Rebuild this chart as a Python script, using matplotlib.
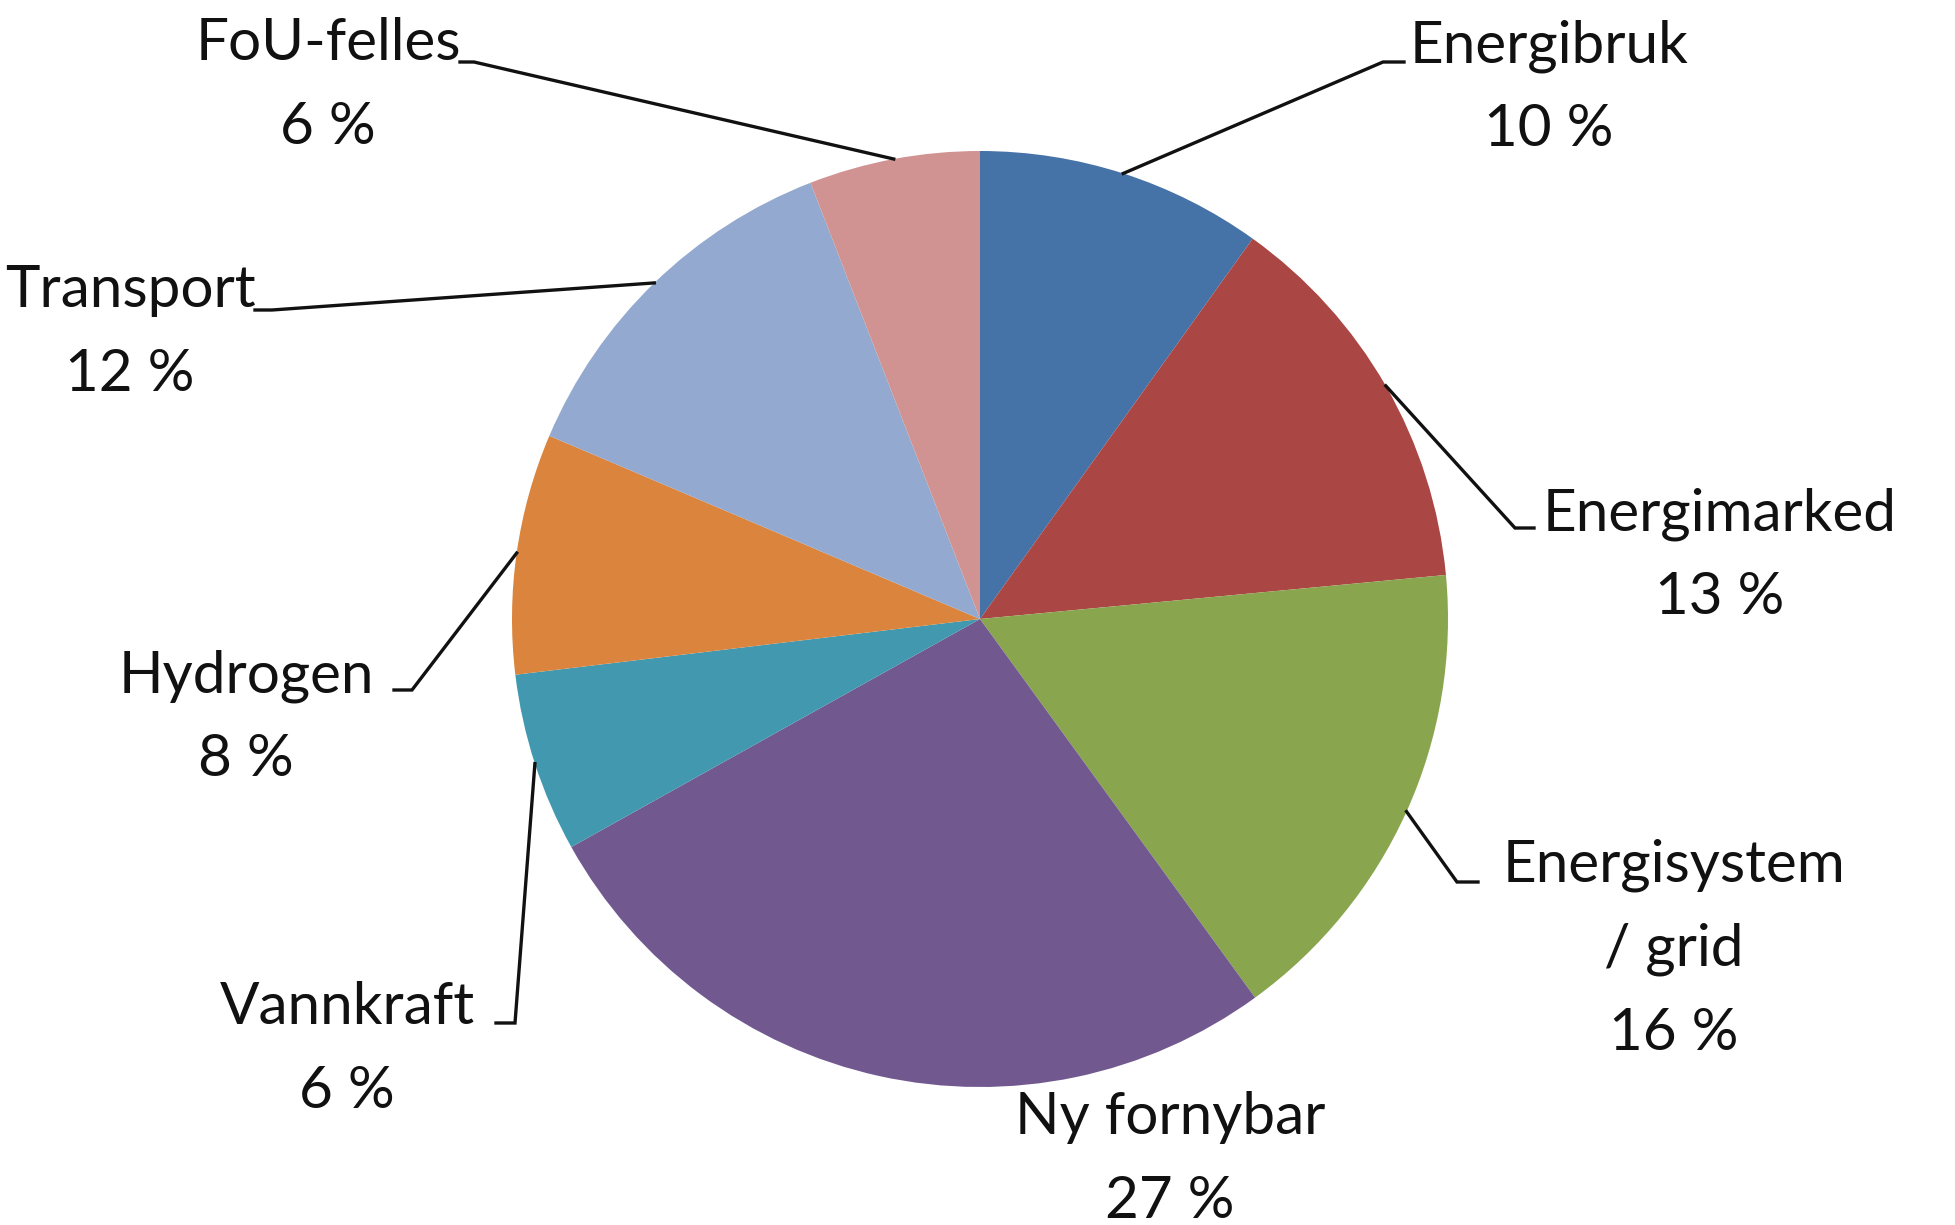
import numpy as np
import matplotlib.pyplot as plt

# data
categories = ["Energibruk", "Energimarked", "Energisystem\n/ grid", "Ny fornybar",
              "Vannkraft", "Hydrogen", "Transport", "FoU-felles"]
shares = [9.9, 13.6, 16.5, 26.9, 6.2, 8.3, 12.7, 5.9]
pct_labels = ["10 %", "13 %", "16 %", "27 %", "6 %", "8 %", "12 %", "6 %"]
colors = ["#4572A7", "#AA4643", "#89A54E", "#71588F",
          "#4198AF", "#DB843D", "#93A9CF", "#D19392"]

W, H = 1956, 1225
cx, cy, r = 980, H - 619, 468

# label layout (image pixel coords: x centre, baseline y of first line)
label_pos = [(1549, 62), (1720, 530), (1674, 882), (1170, 1134),
             (347, 1024), (246, 692), (130, 307), (328, 60)]
# leader line: elbow and end point (None = no leader)
leaders = [((1383, 62), (1404, 62)), ((1515, 528), (1534, 528)),
           ((1457, 882), (1478, 882)), None,
           ((515, 1023), (496, 1023)), ((412, 690), (394, 690)),
           ((272, 310), (255, 310)), ((474, 62), (460, 62))]

plt.rcParams['font.family'] = ['Lato', 'DejaVu Sans']

fig = plt.figure(figsize=(W / 100, H / 100), dpi=100)
ax = fig.add_axes([0, 0, 1, 1])

ax.pie(shares, colors=colors, startangle=90, counterclock=False,
       center=(cx, cy), radius=r, wedgeprops=dict(linewidth=0))

ax.set_xlim(0, W)
ax.set_ylim(0, H)
ax.axis('off')

line_gap = 84
cum = np.cumsum([0] + shares)
for i, name in enumerate(categories):
    mid = (cum[i] + cum[i + 1]) / 2 / 100 * 2 * np.pi
    ex, ey = cx + r * np.sin(mid), cy + r * np.cos(mid)
    if leaders[i] is not None:
        (bx, by), (tx, ty) = leaders[i]
        ax.plot([ex, bx, tx], [ey, H - by, H - ty], color='#111111', lw=2.4,
                solid_joinstyle='miter', zorder=3)
    lx, ly = label_pos[i]
    lines = name.split("\n") + [pct_labels[i]]
    for k, txt in enumerate(lines):
        ax.text(lx, H - (ly + k * line_gap), txt, ha='center', va='baseline',
                fontsize=42, color='#111111')

fig.savefig("out.png", dpi=100, facecolor='white')
